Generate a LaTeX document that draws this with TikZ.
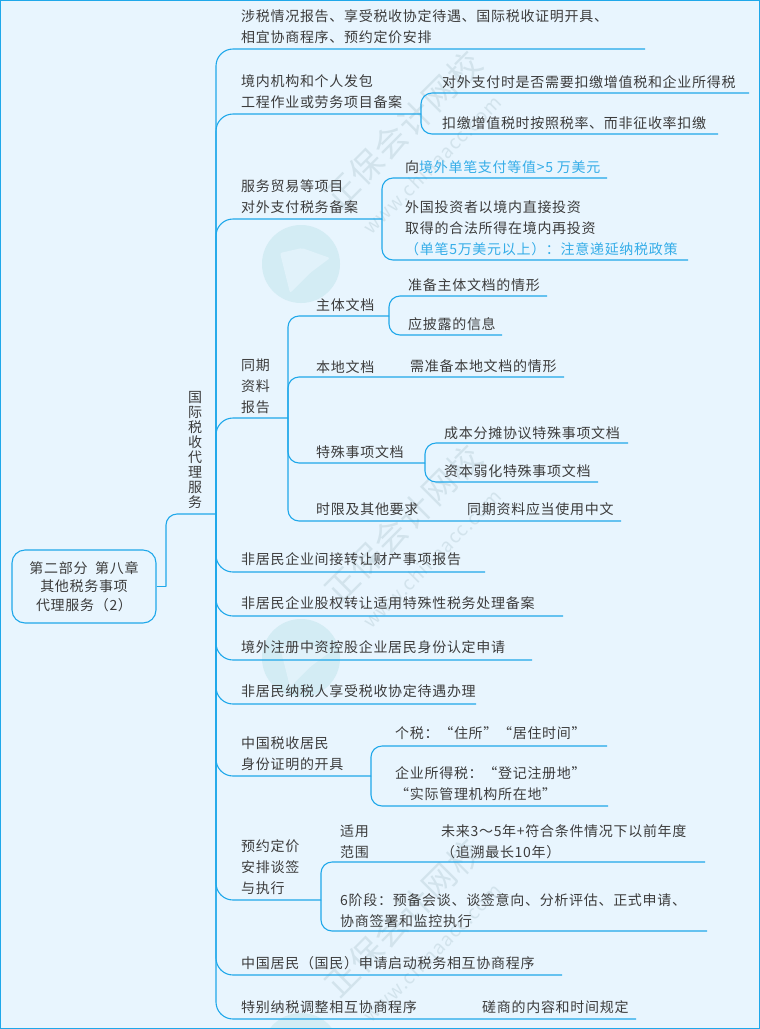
\documentclass[tikz,border=0pt]{standalone}
\usepackage{fontspec}
\usepackage{xcolor}
\setmainfont[LetterSpace=5]{Noto Sans CJK SC}
\definecolor{PaleSky}{HTML}{E8F5FE}
\definecolor{LineBlue}{HTML}{1FA8EA}
\definecolor{InkGrey}{HTML}{3C3C3C}
\definecolor{TextBlue}{HTML}{35ADE8}
\definecolor{MarkTeal}{HTML}{D3ECF4}
\definecolor{MarkGrey}{HTML}{D2E3EC}
\newcommand{\clb}{\textcolor{TextBlue}}
\tikzset{
    topic/.style={anchor=west,inner sep=0pt,align=left,text=InkGrey,font=\fontsize{14}{21}\selectfont},
    rootbox/.style={draw=LineBlue,line width=1.1pt,rounded corners=13pt,inner sep=0pt,minimum width=144pt,minimum height=73pt,align=center,text=InkGrey,font=\fontsize{14}{18.5}\selectfont},
    link/.style={draw=LineBlue,line width=1.1pt,rounded corners=17pt},
    sublink/.style={draw=LineBlue,line width=1.1pt,rounded corners=11pt},
    marklarge/.style={rotate=45,inner sep=0pt,text=MarkGrey,font=\fontsize{33}{33}\selectfont},
    marksmall/.style={rotate=45,inner sep=0pt,text=MarkGrey,font=\fontsize{19}{19}\selectfont}
}

\begin{document}
\begin{tikzpicture}[x=1pt,y=-1pt]
    \useasboundingbox (0,0) rectangle (760,1029);
    \fill[PaleSky] (0,0) rectangle (760,1029);

    \begin{scope}
        \clip (0,0) rectangle (760,1029);
        \foreach \wy in {0,394,788} {
            \fill[MarkTeal] (301,{264+\wy}) circle (39);
            \fill[PaleSky!65!MarkTeal,rounded corners=2pt] (280,{253+\wy}) -- (302,{248+\wy}) -- (330,{258+\wy}) -- (310,{273+\wy}) -- (290,{293+\wy}) -- cycle;
            \node[marklarge] (markcn\wy) at (403,{130+\wy}) {正保会计网校};
            \node[marksmall] (markweb\wy) at (432,{165+\wy}) {www.chinaacc.com};
        }
    \end{scope}
    \draw[draw=LineBlue,line width=2.5pt] (0,0) rectangle (760,1029);

    \node[rootbox] (root) at (84,586.5) {第二部分\ \ 第八章\\其他税务事项\\代理服务（2）};
    \node[topic,anchor=center,align=center,font=\fontsize{14}{15}\selectfont] (main) at (195,450) {国\\际\\税\\收\\代\\理\\服\\务};

    \coordinate (rootj) at (166,586.5);
    \coordinate (bus) at (216,514);
    \draw[draw=LineBlue,line width=1.1pt] (root.east) -- (rootj);
    \draw[sublink] (rootj) |- (bus);

    \node[topic] (t1) at (241,27) {涉税情况报告、享受税收协定待遇、国际税收证明开具、\\相宜协商程序、预约定价安排};
    \coordinate (t1e) at (645,49);

    \node[topic] (t2) at (241,91.5) {境内机构和个人发包\\工程作业或劳务项目备案};
    \coordinate (t2j) at (421,114);
    \node[topic] (t2a) at (442,82) {对外支付时是否需要扣缴增值税和企业所得税};
    \coordinate (t2ae) at (749,93);
    \node[topic] (t2b) at (442,123) {扣缴增值税时按照税率、而非征收率扣缴};
    \coordinate (t2be) at (718,134);

    \node[topic] (t3) at (241,196.5) {服务贸易等项目\\对外支付税务备案};
    \coordinate (t3j) at (382,219);
    \node[topic] (t3a) at (405,167) {向\clb{境外单笔支付等值>5 万美元}};
    \coordinate (t3ae) at (607,178);
    \node[topic] (t3b) at (405,228) {外国投资者以境内直接投资\\取得的合法所得在境内再投资\\\clb{（单笔5万美元以上）：注意递延纳税政策}};
    \coordinate (t3be) at (688,260);

    \node[topic] (t4) at (241,386) {同期\\资料\\报告};
    \coordinate (t4j) at (288,418);
    \node[topic] (t4a) at (316,305) {主体文档};
    \coordinate (t4aj) at (389,316);
    \node[topic] (t4a1) at (408,285) {准备主体文档的情形};
    \coordinate (t4a1e) at (547,296);
    \node[topic] (t4a2) at (408,324) {应披露的信息};
    \coordinate (t4a2e) at (502,335);
    \node[topic] (t4b) at (316,367) {本地文档};
    \node[topic] (t4b1) at (410,366) {需准备本地文档的情形};
    \coordinate (t4be) at (564,377);
    \node[topic] (t4c) at (316,452) {特殊事项文档};
    \coordinate (t4cj) at (425,463);
    \node[topic] (t4c1) at (444,433) {成本分摊协议特殊事项文档};
    \coordinate (t4c1e) at (628,443);
    \node[topic] (t4c2) at (444,471) {资本弱化特殊事项文档};
    \coordinate (t4c2e) at (598,482);
    \node[topic] (t4d) at (316,509) {时限及其他要求};
    \node[topic] (t4d1) at (467,509) {同期资料应当使用中文};
    \coordinate (t4de) at (621,521);

    \node[topic] (t5) at (241,559) {非居民企业间接转让财产事项报告};
    \coordinate (t5e) at (485,572);
    \node[topic] (t6) at (241,603) {非居民企业股权转让适用特殊性税务处理备案};
    \coordinate (t6e) at (563,616);
    \node[topic] (t7) at (241,647) {境外注册中资控股企业居民身份认定申请};
    \coordinate (t7e) at (532,660);
    \node[topic] (t8) at (241,691) {非居民纳税人享受税收协定待遇办理};
    \coordinate (t8e) at (476,704);

    \node[topic] (t9) at (241,753.5) {中国税收居民\\身份证明的开具};
    \coordinate (t9j) at (371,776);
    \node[topic] (t9a) at (395,733) {个税：“住所”“居住时间”};
    \coordinate (t9ae) at (607,746);
    \node[topic] (t9b) at (395,784) {企业所得税：“登记注册地”\\“实际管理机构所在地”};
    \coordinate (t9be) at (608,806);

    \node[topic] (t10) at (241,867.5) {预约定价\\安排谈签\\与执行};
    \coordinate (t10j) at (321,900);
    \node[topic] (t10a) at (340,841.5) {适用\\范围};
    \node[topic] (t10a1) at (441,841.5) {未来3～5年+符合条件情况下以前年度\\（追溯最长10年）};
    \coordinate (t10ae) at (705,862);
    \node[topic] (t10b) at (340,910.5) {6阶段：预备会谈、谈签意向、分析评估、正式申请、\\协商签署和监控执行};
    \coordinate (t10be) at (707,931);

    \node[topic] (t11) at (241,963) {中国居民（国民）申请启动税务相互协商程序};
    \coordinate (t11e) at (562,975);
    \node[topic] (t12) at (241,1007) {特别纳税调整相互协商程序};
    \node[topic] (t12a) at (482,1007) {磋商的内容和时间规定};
    \coordinate (t12e) at (636,1019);

    \foreach \to in {t1e,t2j,t3j,t4j,t5e,t6e,t7e,t8e,t9j,t10j,t11e,t12e} {
        \draw[link] (bus) |- (\to);
    }
    \foreach \to in {t4aj,t4be,t4cj,t4de} {
        \draw[sublink] (t4j) |- (\to);
    }
    \foreach \from/\to in {t2j/t2ae,t2j/t2be,t3j/t3ae,t3j/t3be,t4aj/t4a1e,t4aj/t4a2e,t4cj/t4c1e,t4cj/t4c2e,t9j/t9ae,t9j/t9be,t10j/t10ae,t10j/t10be} {
        \draw[sublink] (\from) |- (\to);
    }
\end{tikzpicture}
\end{document}
